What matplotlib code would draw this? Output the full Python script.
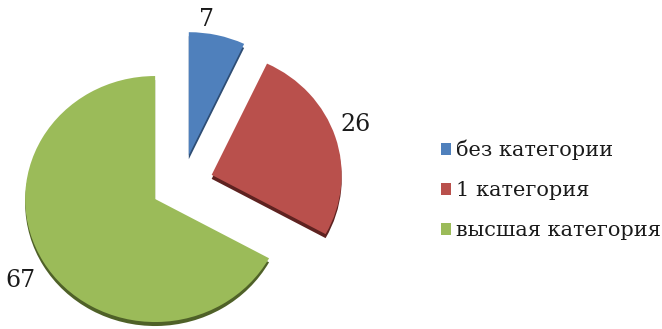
import numpy as np
import matplotlib
matplotlib.use("Agg")
import matplotlib.pyplot as plt
from matplotlib.patches import Patch

# Distribution of staff by qualification category
categories = ["без категории", "1 категория", "высшая категория"]
values = [7, 26, 67]
colors = ["#4F80BC", "#B9504C", "#9BBB59"]
side_colors = ["#2E4D74", "#5E2220", "#4F6128"]

plt.rcParams["font.family"] = ["DejaVu Serif"]

W, H = 662, 329
fig = plt.figure(figsize=(W / 100, H / 100), dpi=100)
ax = fig.add_axes([0, 0, 1, 1])

# slightly flattened pie: horizontal / vertical pixel scale per unit radius
sx, sy = 130.0, 123.0
cx, cy = 182.0, H - 184.0

explode = [0.24, 0.24, 0.24]
depth = 4.0 / sy

# darker copy underneath gives the slices some thickness
ax.pie(values, colors=side_colors, explode=explode, startangle=90,
       counterclock=False, center=(0, -depth), radius=1.0, frame=True,
       wedgeprops=dict(linewidth=0))
wedges, texts = ax.pie(values, colors=colors, explode=explode, startangle=90,
                       counterclock=False, center=(0, 0), radius=1.0, frame=True,
                       labels=[str(v) for v in values], labeldistance=1.16,
                       textprops=dict(fontsize=17, color="#1a1a1a"),
                       wedgeprops=dict(linewidth=0))
ax.set_aspect("auto")
ax.set_xlim(-cx / sx, (W - cx) / sx)
ax.set_ylim(-cy / sy, (H - cy) / sy)
ax.set_axis_off()

nudges = [(-0.12, -0.03), (0.0, 0.05), (-0.04, -0.07)]
for t, (dx, dy) in zip(texts, nudges):
    x, y = t.get_position()
    t.set_position((x + dx, y + dy))
    t.set_ha("center")
    t.set_va("center")

handles = [Patch(facecolor=c, edgecolor="none") for c in colors]
leg = ax.legend(handles, categories, loc="center left",
                bbox_to_anchor=(441 / W, 1 - 190 / H), frameon=False,
                fontsize=15, handlelength=0.5, handleheight=0.5,
                handletextpad=0.2, labelspacing=1.0, borderaxespad=0,
                borderpad=0)
for t in leg.get_texts():
    t.set_color("#1a1a1a")

fig.savefig("out.png", dpi=100, facecolor="white")
